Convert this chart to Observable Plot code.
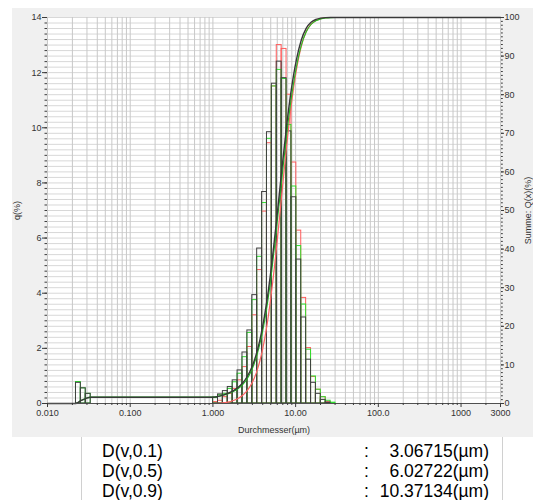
<!DOCTYPE html>
<html><head><meta charset="utf-8">
<script src="https://cdn.jsdelivr.net/npm/d3@7"></script>
<script src="https://cdn.jsdelivr.net/npm/@observablehq/plot@0.6"></script>
<style>
body{margin:0;background:#fff;width:533px;height:500px;overflow:hidden;position:relative;font-family:"Liberation Sans",Arial,sans-serif}
#panel{position:absolute;left:12px;top:8px;width:521px;height:429px;background:#f0f0f0}
#chart{position:absolute;left:0;top:0}
#table{position:absolute;left:81px;top:437px;width:420px;height:63px;border-left:1px solid #d0d0d0;border-right:1px solid #d0d0d0;background:#fff;overflow:hidden}
.row{position:absolute;left:0;width:100%;height:20px;font-size:17.5px;line-height:20px;color:#000;white-space:nowrap}
.row .n{position:absolute;left:20px}
.row .c{position:absolute;left:282px}
.row .v{position:absolute;right:13px}
</style></head>
<body>
<div id="panel"></div>
<div id="chart"></div>
<div id="table"></div>
<script>
// Channel (bin) edges in µm; interval i spans edges[i]..edges[i+1]
const edges = [0.0221,0.0253,0.0290,0.0333,
  1.005,1.152,1.320,1.513,1.734,1.987,2.277,2.610,2.991,3.428,3.929,4.503,5.160,5.914,6.778,7.768,8.902,10.20,11.69,13.40,15.36,17.60,20.17,23.11,26.49,30.36];
// q(%) per interval; null = no bar (gap between 0.0333 and 1.005)
const qBlack = [0.75,0.55,0.35,null,
  0.22,0.33,0.45,0.60,0.84,1.20,1.85,2.65,3.93,5.62,7.67,9.84,11.6,12.4,11.8,9.87,7.48,5.22,3.12,1.59,0.75,0.35,0.13,0.03,null];
const qRed = [null,null,null,null,
  0.05,0.10,0.23,0.35,0.53,0.84,1.32,2.05,3.20,4.84,6.96,9.44,11.5,13.0,12.86,11.2,8.74,6.27,3.83,2.01,0.96,0.50,0.23,0.06,null];
const qGreen = [0.78,0.55,0.35,null,
  0.20,0.30,0.35,0.53,0.77,1.08,1.68,2.56,3.75,5.32,7.27,9.60,11.5,12.1,11.77,10.1,7.87,5.71,3.59,1.95,0.98,0.50,0.23,0.10,0.03];

const xTickValues = [0.01,0.1,1,10,100,1000,3000];
const xTickLabels = ["0.010","0.100","1.000","10.00","100.0","1000","3000"];
const decades = [0.01,0.1,1,10,100];
const multipliers = [1,2,3,4,5,6,7,8,9];
const lastDecade = [1000,2000,3000];
const leftTicks = [0,2,4,6,8,10,12,14];
const rightTicks = [0,10,20,30,40,50,60,70,80,90,100];
const xRange = [0.01,3000];
const yMax = 14;

const dLabels = ["D(v,0.1)","D(v,0.5)","D(v,0.9)"];
const dValues = ["3.06715(µm)","6.02722(µm)","10.37134(µm)"];

function bins(q){
  const out=[];
  q.forEach((v,i)=>{ if(v!=null) out.push({x1:edges[i],x2:edges[i+1],q:v}); });
  return out;
}
function cumulative(q){
  const total = d3.sum(q.filter(v=>v!=null));
  const pts=[{x:xRange[0],c:0}];
  let c=0;
  q.forEach((v,i)=>{ if(v!=null){ pts.push({x:edges[i],c}); c+=v; pts.push({x:edges[i+1],c}); } });
  pts.push({x:xRange[1],c:total});
  const seen=new Map(); pts.forEach(p=>seen.set(p.x,p));
  return Array.from(seen.values()).sort((a,b)=>a.x-b.x).map(p=>({x:p.x,y:p.c/total*yMax}));
}

const gridX = decades.flatMap(d=>multipliers.map(m=>m*d)).concat(lastDecade);
const minorX = gridX.filter(v=>!xTickValues.includes(v));
const gridY = d3.range(0, yMax+0.001, 0.2);
const minorRight = d3.range(0, 101, 1).map(v=>v*yMax/100);

const font = "Liberation Sans, Arial, sans-serif";
const axColor = "#3a3a3a";

const marks = [
  Plot.frame({fill:"white", stroke:null}),
  Plot.ruleY(gridY, {stroke:"#d8d8d8", strokeWidth:1}),
  Plot.ruleX(gridX, {stroke:"#c8c8c8", strokeWidth:1}),
  Plot.rectY(bins(qRed), {x1:"x1", x2:"x2", y:"q", fill:"none", stroke:"#ff5c5c", strokeWidth:1}),
  Plot.rectY(bins(qGreen), {x1:"x1", x2:"x2", y:"q", fill:"none", stroke:"#2ee02e", strokeWidth:1}),
  Plot.rectY(bins(qBlack), {x1:"x1", x2:"x2", y:"q", fill:"none", stroke:"#404040", strokeWidth:1}),
  Plot.line(cumulative(qRed), {x:"x", y:"y", curve:"monotone-x", stroke:"#ff6464", strokeWidth:1.2}),
  Plot.line(cumulative(qGreen), {x:"x", y:"y", curve:"monotone-x", stroke:"#20c020", strokeWidth:1.1}),
  Plot.line(cumulative(qBlack), {x:"x", y:"y", curve:"monotone-x", stroke:"#383838", strokeWidth:1.4}),
  Plot.ruleY([0], {stroke:"#505050", strokeWidth:1}),
  Plot.axisX(xTickValues, {anchor:"bottom", tickSize:4, tickFormat:()=>"", stroke:axColor, label:null}),
  Plot.axisX(minorX, {anchor:"bottom", tickSize:2, tickFormat:()=>"", stroke:axColor, label:null}),
  Plot.text(xTickValues, {x:d=>d, text:(d,i)=>xTickLabels[i], frameAnchor:"bottom", dy:12, textAnchor:"middle", fontSize:9, fill:"#333"}),
  Plot.axisY(leftTicks, {anchor:"left", tickSize:5, tickPadding:1, tickFormat:d=>String(d), stroke:axColor, fill:"#333", fontSize:9, label:null}),
  Plot.axisY(gridY, {anchor:"left", tickSize:2.5, tickFormat:()=>"", stroke:axColor, label:null}),
  Plot.axisY(rightTicks.map(v=>v*yMax/100), {anchor:"right", tickSize:3, tickPadding:1, tickFormat:d=>String(Math.round(d*100/yMax)), stroke:axColor, fill:"#333", fontSize:9, label:null}),
  Plot.axisY(minorRight, {anchor:"right", tickSize:1.8, tickFormat:()=>"", stroke:axColor, label:null}),
  Plot.text(["q(%)"], {text:d=>d, frameAnchor:"left", dx:-30, rotate:-90, textAnchor:"middle", fontSize:9, fill:"#333"}),
  Plot.text(["Summe: Q(x)(%)"], {text:d=>d, frameAnchor:"right", dx:28, rotate:-90, textAnchor:"middle", fontSize:9, fill:"#333"}),
  Plot.text(["Durchmesser(µm)"], {text:d=>d, frameAnchor:"bottom", dy:29, textAnchor:"middle", fontSize:9, fill:"#333"})
];

const chart = Plot.plot({
  width:533, height:437,
  marginLeft:47, marginRight:33, marginTop:17, marginBottom:34,
  x:{type:"log", domain:xRange},
  y:{domain:[0,yMax]},
  style:{background:"transparent", fontFamily:font, fontSize:"9px", overflow:"visible"},
  marks
});
document.getElementById("chart").appendChild(chart);

const table = document.getElementById("table");
dLabels.forEach((lab,i)=>{
  const r=document.createElement("div");
  r.className="row"; r.style.top=(4+i*20)+"px";
  r.innerHTML=`<span class="n">${lab}</span><span class="c">:</span><span class="v">${dValues[i]}</span>`;
  table.appendChild(r);
});
</script>
</body></html>
